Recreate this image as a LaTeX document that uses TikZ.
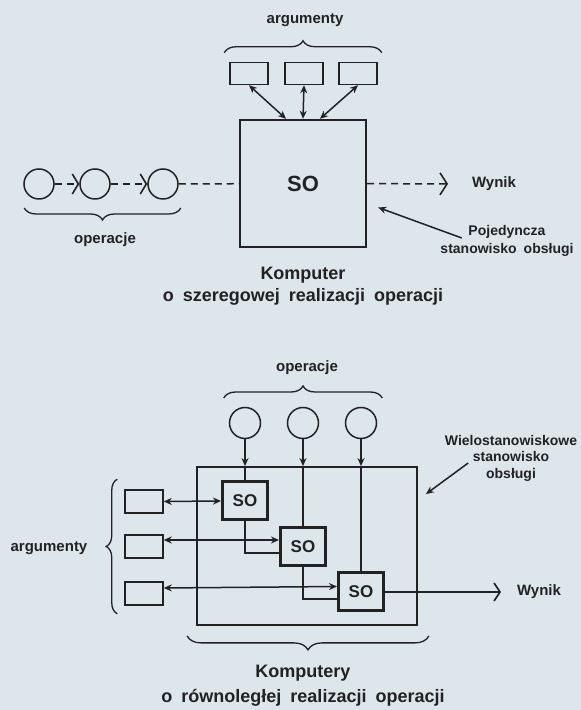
\documentclass[tikz,border=0pt]{standalone}
\usepackage{fontspec}
\setmainfont{Liberation Sans}[WordSpace=1.8]
\usetikzlibrary{arrows.meta,positioning,calc,decorations.pathreplacing}
\definecolor{paper}{HTML}{DDE6EB}
\definecolor{ink}{HTML}{222222}

\begin{document}
\begin{tikzpicture}[
    x=1pt, y=1pt,
    color=ink, line width=1.5pt,
    >={Stealth[length=8pt,width=7pt]},
    chev/.tip={Straight Barb[length=6pt,width=20pt,line width=1.6pt]},
    argbox/.style={draw, minimum width=38pt, minimum height=22pt, inner sep=0pt},
    opcirc/.style={draw, circle, minimum size=30pt, inner sep=0pt},
    sobox/.style={draw, line width=3pt, minimum width=45pt, minimum height=38pt, inner sep=0pt, font=\fontsize{17}{20}\selectfont\bfseries},
    txt/.style={font=\fontsize{15}{17}\selectfont\bfseries},
    note/.style={font=\fontsize{14}{16.5}\selectfont\bfseries, align=center, inner sep=2pt},
    caption/.style={font=\fontsize{18}{22}\selectfont\bfseries, align=center},
    dashline/.style={dash pattern=on 7pt off 5pt},
    curly/.style={decorate, decoration={brace, amplitude=12pt}, line width=1.3pt},
]
    \fill[paper] (0,0) rectangle (581,710);
    \useasboundingbox (0,0) rectangle (581,710);

    % --- Serial computer ---
    \node[txt] (argtop) at (305, 690) {argumenty};
    \node[argbox] (a1) at (249, 636.5) {};
    \node[argbox] (a2) at (304, 636.5) {};
    \node[argbox] (a3) at (358, 636.5) {};
    \draw[curly] ($(a1.north west)+(-5,9)$) -- ($(a3.north east)+(4,9)$);

    \node[draw, line width=2.4pt, minimum width=126pt, minimum height=127pt, font=\fontsize{22}{24}\selectfont\bfseries] (so) at (303, 526.5) {SO};
    \draw[<->] (a1.south) -- ($(so.north)+(-17,0)$);
    \draw[<->] (a2.south) -- (so.north);
    \draw[<->] (a3.south) -- ($(so.north)+(17,0)$);

    % operations in a queue
    \node[opcirc] (c1) at (39, 526) {};
    \node[opcirc] (c2) at (95, 526) {};
    \node[opcirc] (c3) at (163, 526) {};
    \draw[dashline, -{chev}] (c1) -- (c2);
    \draw[dashline, -{chev}] (c2) -- (c3);
    \draw[dashline] (c3) -- (so);
    \draw[curly] ($(c3.east)+(2,-24)$) -- ($(c1.west)+(1,-24)$);
    \node[txt] (optop) at (105, 470) {operacje};

    \node[txt, anchor=west] (wynik1) at (468, 526) {Wynik};
    \draw[dashline, -{chev[width=22pt,length=7pt]}, shorten >=20pt] (so) -- (wynik1);

    \node[note, font=\fontsize{14}{18}\selectfont\bfseries] (poj) at (507, 469) {Pojedyncza\\stanowisko obsługi};
    \draw[->] ($(poj.west)+(24,3)$) -- ($(so.east)+(11,-24)$);

    \node[caption] (captop) at (303, 424) {Komputer\\o szeregowej realizacji operacji};

    % --- Parallel computer ---
    \node[txt] (opbot) at (307, 342) {operacje};
    \node[opcirc, minimum size=31pt] (d1) at (245, 287) {};
    \node[opcirc, minimum size=31pt] (d2) at (303, 287) {};
    \node[opcirc, minimum size=31pt] (d3) at (361, 287) {};
    \draw[curly] ($(d1.west)+(-5,25)$) -- ($(d3.east)+(5,25)$);

    \node[draw, line width=1.8pt, minimum width=220pt, minimum height=158pt] (frame) at (307, 164) {};
    \node[sobox] (s1) at (245, 209) {SO};
    \node[sobox] (s2) at (303, 163.5) {SO};
    \node[sobox] (s3) at (361, 118) {SO};

    \foreach \d/\s in {d1/s1, d2/s2, d3/s3} {
        \draw[->] (\d) -- (\d |- frame.north);
        \draw (\d |- frame.north) -- (\s);
    }
    \draw (s1.south) |- ($(s2.west)+(0,-6.5)$);
    \draw (s2.south) |- ($(s3.west)+(0,-7)$);

    \node[argbox, minimum height=23pt] (b1) at (144, 208.5) {};
    \node[argbox, minimum height=23pt] (b2) at (144, 163.5) {};
    \node[argbox, minimum height=23pt] (b3) at (144, 116.5) {};
    \draw[<->] (b1.east) -- (s1.west);
    \draw[<->] ($(b2.east)+(0,6.5)$) -- ($(s2.west)+(0,6.5)$);
    \draw[<->] ($(b3.east)+(0,5.5)$) -- ($(s3.west)+(0,5.5)$);
    \draw[curly, decoration={amplitude=11pt}] ($(b3.south west)+(-7,-8)$) -- ($(b1.north west)+(-7,10)$);
    \node[txt] (argbot) at (49, 162) {argumenty};

    \node[txt, anchor=west] (wynik2) at (513, 118) {Wynik};
    \draw[-{chev[width=18pt,length=6pt]}, shorten >=12pt] (s3) -- (wynik2);

    \node[note] (wielo) at (511, 252) {Wielostanowiskowe\\stanowisko\\obsługi};
    \draw[->] ($(wielo.west)+(26,-5)$) -- ($(frame.north east)+(8,-28)$);

    \draw[curly, decoration={amplitude=14pt}] ($(frame.south east)+(11,-10)$) -- ($(frame.south west)+(-9,-10)$);
    \node[caption] (capbot) at (303, 24) {Komputery\\[3pt]o równoległej realizacji operacji};
\end{tikzpicture}
\end{document}
